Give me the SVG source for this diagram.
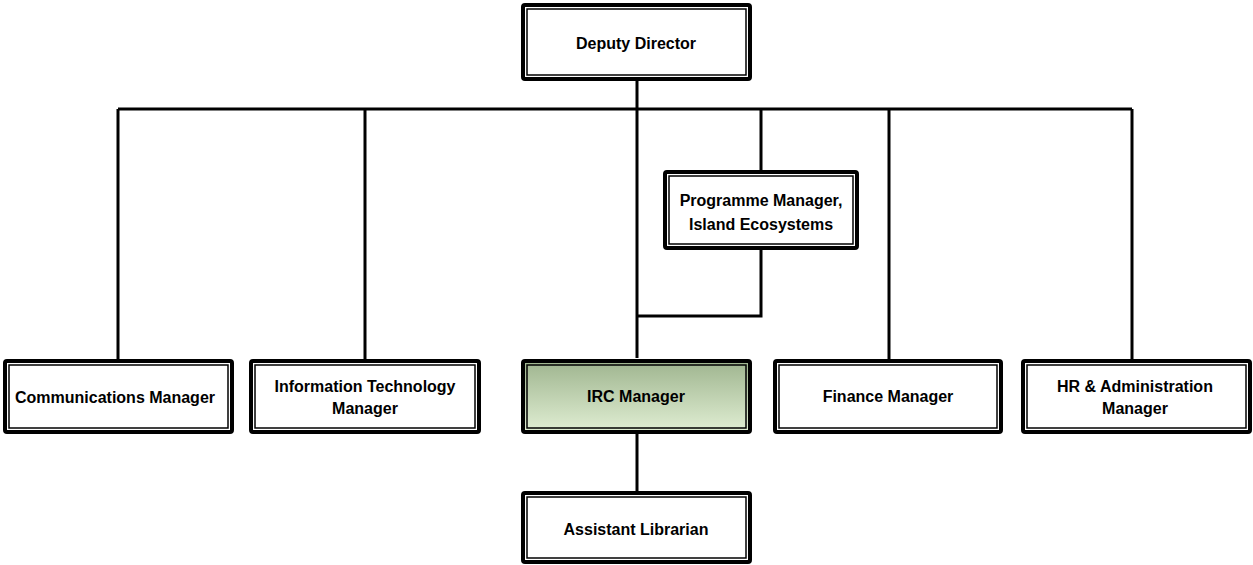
<svg xmlns="http://www.w3.org/2000/svg" width="1253" height="565" viewBox="0 0 1253 565">
<defs>
<linearGradient id="g" x1="0" y1="0" x2="0" y2="1">
<stop offset="0" stop-color="#9fb58f"/>
<stop offset="1" stop-color="#e0eed3"/>
</linearGradient>
<style>
.o{fill:#fff;stroke:#000;stroke-width:4}
.i{fill:none;stroke:#000;stroke-width:1.5}
.t{font-family:"Liberation Sans",Arial,sans-serif;font-weight:bold;font-size:16px;text-anchor:middle;fill:#000}
.c{fill:none;stroke:#000;stroke-width:3}
</style>
</defs>
<rect width="1253" height="565" fill="#fff"/>
<g id="connectors">
<path class="c" d="M637 81V358M118 109H1132M118 109V359M365 109V359M761 109V170M889 109V359M1132 109V359M761 249V316H637M637 433V491"/>
</g>
<g id="deputy">
<rect class="o" x="523" y="5" width="227" height="74" rx="2"/>
<rect class="i" x="527" y="9" width="219" height="66"/>
<text class="t" x="636" y="49">Deputy Director</text>
</g>
<g id="programme">
<rect class="o" x="665" y="172" width="192" height="76" rx="2"/>
<rect class="i" x="669" y="176" width="184" height="68"/>
<text class="t" x="761" y="206">Programme Manager,</text>
<text class="t" x="761" y="230">Island Ecosystems</text>
</g>
<g id="communications">
<rect class="o" x="5" y="361" width="227" height="71" rx="2"/>
<rect class="i" x="9" y="365" width="219" height="63"/>
<text class="t" x="115" y="403">Communications Manager</text>
</g>
<g id="it">
<rect class="o" x="251" y="361" width="228" height="71" rx="2"/>
<rect class="i" x="255" y="365" width="220" height="63"/>
<text class="t" x="365" y="392">Information Technology</text>
<text class="t" x="365" y="414">Manager</text>
</g>
<g id="irc">
<rect class="o" x="523" y="361" width="227" height="71" rx="2" style="fill:url(#g)"/>
<rect class="i" x="527" y="365" width="219" height="63"/>
<text class="t" x="636" y="402">IRC Manager</text>
</g>
<g id="finance">
<rect class="o" x="775" y="361" width="226" height="71" rx="2"/>
<rect class="i" x="779" y="365" width="218" height="63"/>
<text class="t" x="888" y="402">Finance Manager</text>
</g>
<g id="hr">
<rect class="o" x="1023" y="361" width="227" height="71" rx="2"/>
<rect class="i" x="1027" y="365" width="219" height="63"/>
<text class="t" x="1135" y="392">HR &amp; Administration</text>
<text class="t" x="1135" y="414">Manager</text>
</g>
<g id="assistant">
<rect class="o" x="523" y="493" width="227" height="69" rx="2"/>
<rect class="i" x="527" y="497" width="219" height="61"/>
<text class="t" x="636" y="535">Assistant Librarian</text>
</g>
</svg>
